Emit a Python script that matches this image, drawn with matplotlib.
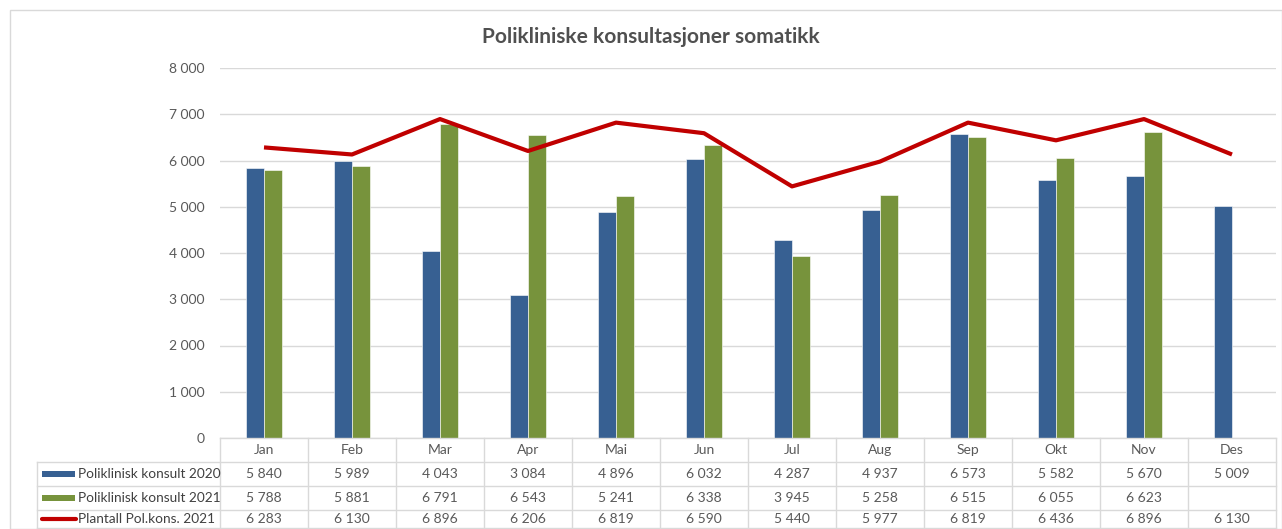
import matplotlib
matplotlib.use("Agg")
import matplotlib.pyplot as plt
from matplotlib import ticker
from matplotlib.patches import Rectangle
from matplotlib.lines import Line2D

months = ["Jan", "Feb", "Mar", "Apr", "Mai", "Jun", "Jul", "Aug", "Sep", "Okt", "Nov", "Des"]
konsult_2020 = [5840, 5989, 4043, 3084, 4896, 6032, 4287, 4937, 6573, 5582, 5670, 5009]
konsult_2021 = [5788, 5881, 6791, 6543, 5241, 6338, 3945, 5258, 6515, 6055, 6623, None]
plantall_2021 = [6283, 6130, 6896, 6206, 6819, 6590, 5440, 5977, 6819, 6436, 6896, 6130]

series_names = ["Poliklinisk konsult 2020", "Poliklinisk konsult 2021", "Plantall Pol.kons. 2021"]
title = "Polikliniske konsultasjoner somatikk"

BLUE = "#376092"
GREEN = "#77933C"
RED = "#C00000"
GRID = "#D9D9D9"
TXT = "#595959"

plt.rcParams['font.family'] = ['Lato', 'DejaVu Sans']

W, H = 1282, 529
fig = plt.figure(figsize=(W / 100, H / 100), dpi=100)

# chart area frame
fig.patches.append(Rectangle((10 / W, 0), 1 - 10 / W, 1 - 10 / H, transform=fig.transFigure,
                             fill=False, edgecolor="#D9D9D9", linewidth=1))

px_l, px_r, px_t, px_b = 220, 1276, 68, 438
ax = fig.add_axes([px_l / W, 1 - px_b / H, (px_r - px_l) / W, (px_b - px_t) / H])

x = list(range(len(months)))
bw = 0.21
ax.bar([i - bw / 2 for i in x], konsult_2020, bw, color=BLUE, edgecolor="white", linewidth=0.4)
ax.bar([i + bw / 2 for i, v in zip(x, konsult_2021) if v is not None],
       [v for v in konsult_2021 if v is not None], bw, color=GREEN, edgecolor="white", linewidth=0.4)
ax.plot(x, plantall_2021, color=RED, linewidth=3, solid_capstyle="butt", zorder=5)

ax.set_xlim(-0.5, len(months) - 0.5)
ax.set_ylim(0, 8000)
ax.yaxis.set_major_locator(ticker.MultipleLocator(1000))
ax.yaxis.set_major_formatter(ticker.FuncFormatter(lambda v, p: f"{int(v):,}".replace(",", " ")))
ax.grid(axis="y", color=GRID, linewidth=1)
ax.set_axisbelow(True)
for s in ax.spines.values():
    s.set_visible(False)
ax.set_xticks([])
ax.tick_params(axis="y", length=0, pad=11, labelsize=10, labelcolor=TXT)

fig.text(651 / W, 1 - 37 / H, title, ha="center", va="center", fontsize=15,
         fontweight="bold", color="#505050")

# data table below the plot
fmt = lambda v: "" if v is None else f"{v:,}".replace(",", " ")
row_lines = [438, 462, 486, 510, 528]
col_w = (px_r - px_l) / len(months)
leg_l = 37
lc = "#D9D9D9"

def fy(p):
    return 1 - p / H

def fx(p):
    return p / W

# horizontal lines
fig.add_artist(Line2D([fx(px_l), fx(px_r)], [fy(row_lines[0])] * 2, color=lc, lw=1))
for r in row_lines[1:]:
    fig.add_artist(Line2D([fx(leg_l), fx(px_r)], [fy(r)] * 2, color=lc, lw=1))
# vertical lines
for c in range(len(months) + 1):
    xp = px_l + c * col_w
    fig.add_artist(Line2D([fx(xp)] * 2, [fy(row_lines[0]), fy(row_lines[-1])], color=lc, lw=1))
fig.add_artist(Line2D([fx(leg_l)] * 2, [fy(row_lines[1]), fy(row_lines[-1])], color=lc, lw=1))

for c, m in enumerate(months):
    xc = px_l + (c + 0.5) * col_w
    fig.text(fx(xc), fy((row_lines[0] + row_lines[1]) / 2), m, ha="center", va="center",
             fontsize=10, color=TXT)

rows = [konsult_2020, konsult_2021, plantall_2021]
for r, vals in enumerate(rows):
    yc = fy((row_lines[r + 1] + row_lines[r + 2]) / 2)
    for c, v in enumerate(vals):
        xc = px_l + (c + 0.5) * col_w
        fig.text(fx(xc), yc, fmt(v), ha="center", va="center", fontsize=10, color=TXT)
    fig.text(fx(78), yc, series_names[r], ha="left", va="center", fontsize=9.8, color="#404040")

# legend keys
for r, col in enumerate([BLUE, GREEN]):
    yc = (row_lines[r + 1] + row_lines[r + 2]) / 2
    fig.patches.append(Rectangle((fx(42), fy(yc + 3)), 33 / W, 6 / H, transform=fig.transFigure,
                                 facecolor=col, edgecolor="none"))
yc = (row_lines[3] + row_lines[4]) / 2
fig.add_artist(Line2D([fx(42), fx(76)], [fy(yc)] * 2, color=RED, lw=3, solid_capstyle="round"))

fig.savefig("out.png", dpi=100, facecolor="white")
